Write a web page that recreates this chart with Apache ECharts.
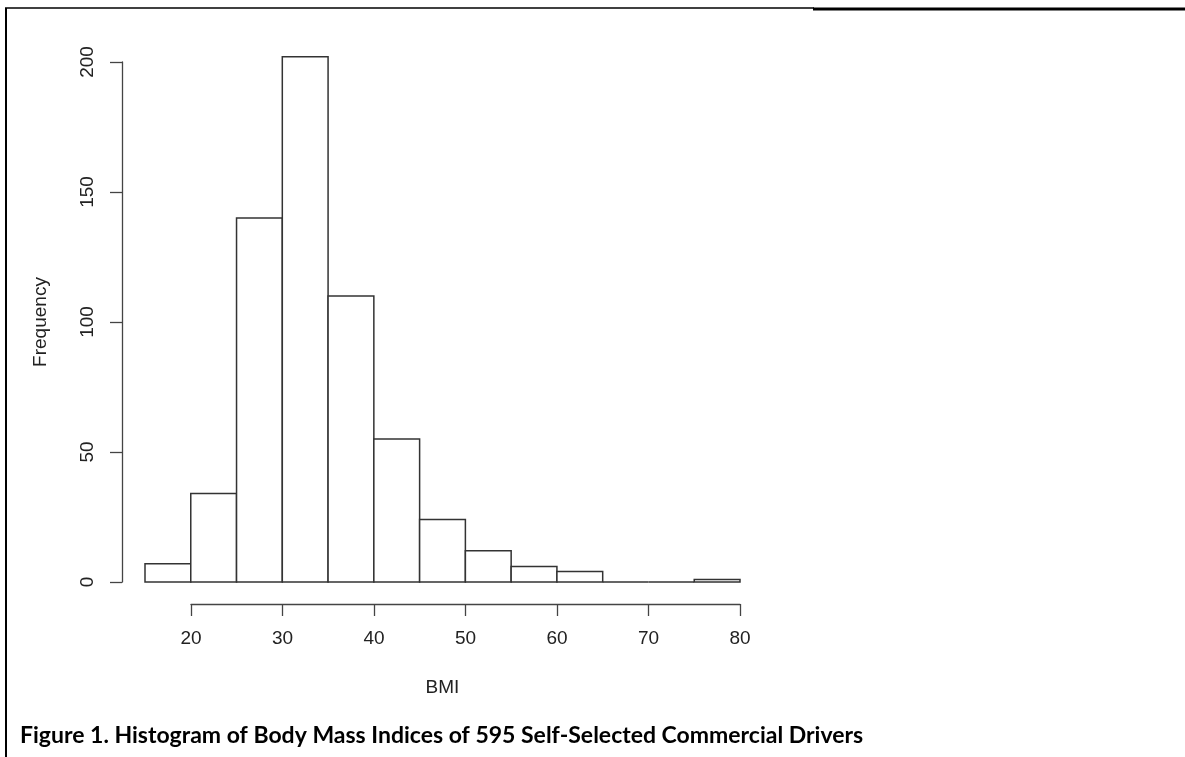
<!DOCTYPE html>
<html>
<head>
<meta charset="utf-8">
<script src="https://cdn.jsdelivr.net/npm/echarts@6/dist/echarts.min.js"></script>
<style>
  html, body { margin: 0; padding: 0; background: #fff; }
  #main { width: 1185px; height: 757px; }
</style>
</head>
<body>
<div id="main"></div>
<script>
// histogram bins (left edges), width 5
var binStarts = [15, 20, 25, 30, 35, 40, 45, 50, 55, 60, 65, 70, 75];
var counts = [7, 34, 140, 202, 110, 55, 24, 12, 6, 4, 0, 0, 1];
var binWidth = 5;
var xTicks = [20, 30, 40, 50, 60, 70, 80];
var yTicks = [0, 50, 100, 150, 200];

var histData = [];
for (var i = 0; i < binStarts.length; i++) {
    histData.push([binStarts[i], counts[i]]);
}

var myChart = echarts.init(document.getElementById('main'));
var axisColor = '#444';
var textFont = 'Liberation Sans';

var option = {
    animation: false,
    grid: [
        { left: 145, width: 595, top: 62, height: 520 },
        { left: 191, width: 549, top: 603, height: 1 }
    ],
    xAxis: [
        {
            gridIndex: 0,
            type: 'value',
            min: 15,
            max: 80,
            axisLine: { show: false },
            axisTick: { show: false },
            axisLabel: { show: false },
            splitLine: { show: false },
            name: 'BMI',
            nameLocation: 'middle',
            nameGap: 96,
            nameTextStyle: { fontFamily: textFont, fontSize: 19, color: '#222' }
        },
        {
            gridIndex: 1,
            type: 'value',
            min: xTicks[0],
            max: xTicks[xTicks.length - 1],
            interval: 10,
            axisLine: { show: true, lineStyle: { color: axisColor, width: 1.3 } },
            axisTick: { show: true, length: 12, lineStyle: { color: axisColor, width: 1.3 } },
            axisLabel: { margin: 25, fontFamily: textFont, fontSize: 19, color: '#222' },
            splitLine: { show: false }
        }
    ],
    yAxis: [
        {
            gridIndex: 0,
            type: 'value',
            min: yTicks[0],
            max: yTicks[yTicks.length - 1],
            interval: 50,
            offset: 23,
            axisLine: { show: true, lineStyle: { color: axisColor, width: 1.3 } },
            axisTick: { show: true, length: 12, lineStyle: { color: axisColor, width: 1.3 } },
            axisLabel: { rotate: 90, margin: 25, fontFamily: textFont, fontSize: 19, color: '#222' },
            splitLine: { show: false },
            name: 'Frequency',
            nameLocation: 'middle',
            nameGap: 72,
            nameTextStyle: { fontFamily: textFont, fontSize: 19, color: '#222' }
        },
        {
            gridIndex: 1,
            type: 'value',
            show: false
        }
    ],
    series: [
        {
            type: 'custom',
            xAxisIndex: 0,
            yAxisIndex: 0,
            clip: false,
            encode: { x: 0, y: 1 },
            data: histData,
            renderItem: function (params, api) {
                var s = api.value(0);
                var c = api.value(1);
                var p0 = api.coord([s, c]);
                var p1 = api.coord([s + binWidth, 0]);
                return {
                    type: 'rect',
                    shape: { x: p0[0], y: p0[1], width: p1[0] - p0[0], height: p1[1] - p0[1] },
                    style: { fill: '#fff', stroke: '#333', lineWidth: 1.5 }
                };
            }
        }
    ],
    graphic: [
        { type: 'line', shape: { x1: 6, y1: 8, x2: 6, y2: 757 }, style: { stroke: '#000', lineWidth: 2 } },
        { type: 'line', shape: { x1: 5, y1: 8, x2: 814, y2: 8 }, style: { stroke: '#000', lineWidth: 1.5 } },
        { type: 'line', shape: { x1: 813, y1: 9, x2: 1185, y2: 9 }, style: { stroke: '#000', lineWidth: 3 } },
        {
            type: 'text',
            left: 20,
            top: 724,
            style: {
                text: 'Figure 1. Histogram of Body Mass Indices of 595 Self-Selected Commercial Drivers',
                font: 'bold 23px Lato',
                fill: '#000'
            }
        }
    ]
};

myChart.setOption(option);
</script>
</body>
</html>
